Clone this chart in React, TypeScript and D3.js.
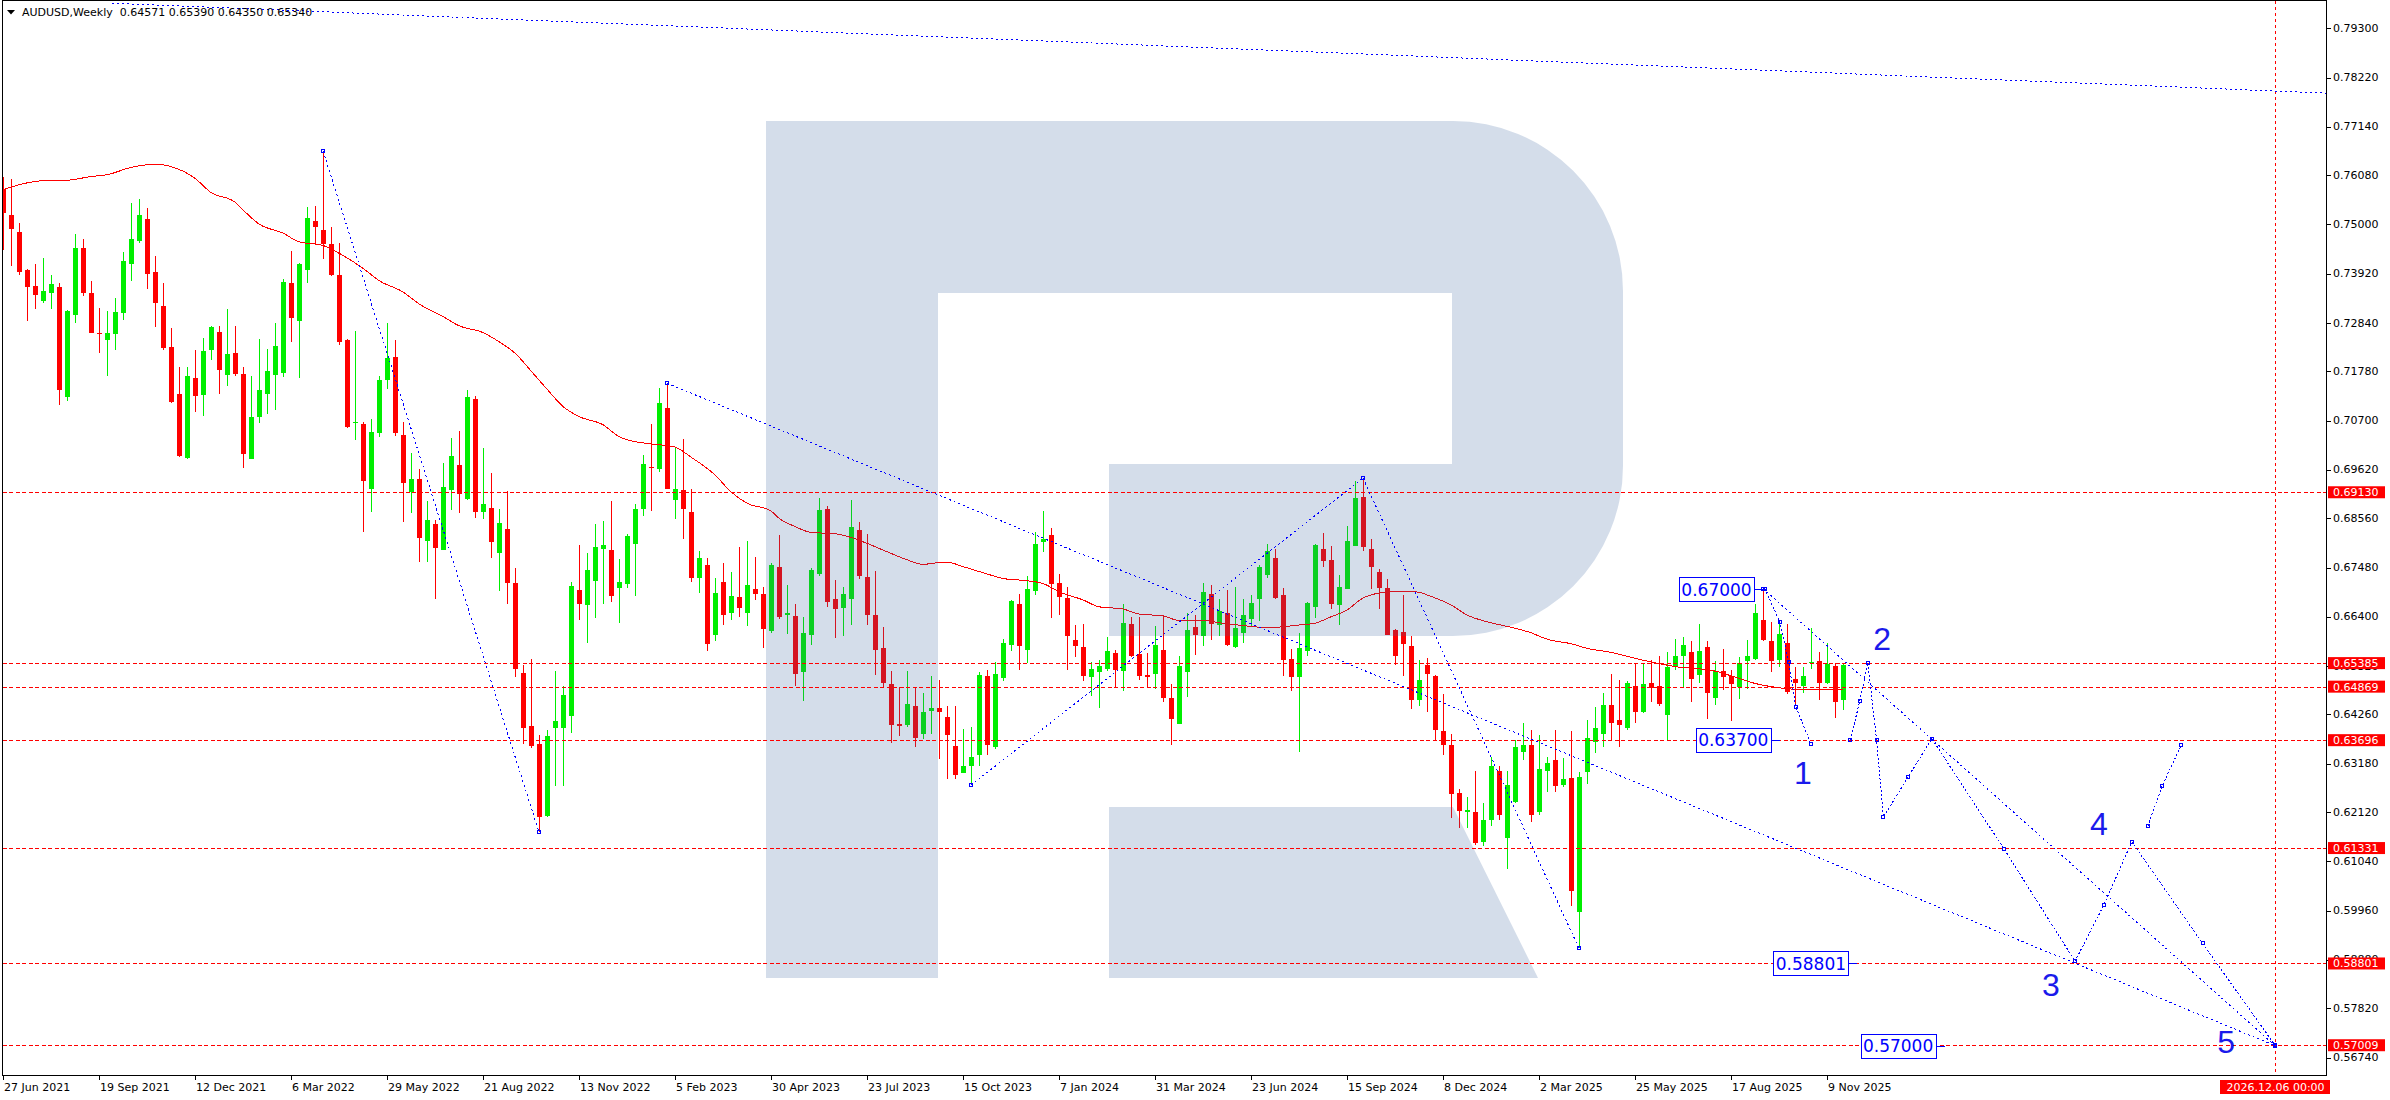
import React, { useEffect } from 'react';
import * as d3 from 'd3';

// ---------- data (weekly candles, index 0 = week of 27 Jun 2021) ----------
const OPEN = [
0.7578,0.7521,0.7484,0.7400,0.7366,0.7332,0.7349,0.7363,0.7121,0.7302,
0.7449,0.7350,0.7263,0.7247,0.7261,0.7305,0.7414,0.7464,0.7512,0.7396,
0.7321,0.7232,0.7129,0.6989,0.7164,0.7126,0.7225,0.7264,0.7169,0.7218,
0.7172,0.6987,0.7077,0.7129,0.7170,0.7175,0.7372,0.7289,0.7400,0.7508,
0.7487,0.7457,0.7389,0.7246,0.7066,0.7063,0.6920,0.7043,0.7158,0.7209,
0.7039,0.6913,0.6941,0.6806,0.6843,0.6787,0.6917,0.6972,0.6899,0.7117,
0.6870,0.6878,0.6780,0.6832,0.6714,0.6516,0.6400,0.6362,0.6204,0.6397,
0.6397,0.6423,0.6699,0.6665,0.6719,0.6789,0.6787,0.6704,0.6713,0.6800,
0.6877,0.6969,0.6963,0.7098,0.6897,0.6918,0.6870,0.6726,0.6754,0.6601,
0.6716,0.6649,0.6684,0.6649,0.6701,0.6690,0.6608,0.6749,0.6643,0.6642,
0.6518,0.6601,0.6733,0.6876,0.6679,0.6660,0.6680,0.6830,0.6727,0.6644,
0.6572,0.6493,0.6405,0.6403,0.6445,0.6383,0.6433,0.6440,0.6421,0.6357,
0.6298,0.6312,0.6336,0.6510,0.6355,0.6505,0.6579,0.6668,0.6568,0.6697,
0.6803,0.6819,0.6714,0.6681,0.6589,0.6574,0.6509,0.6518,0.6526,0.6561,
0.6522,0.6624,0.6559,0.6513,0.6515,0.6567,0.6462,0.6406,0.6518,0.6618,
0.6599,0.6690,0.6621,0.6648,0.6574,0.6605,0.6636,0.6679,0.6732,0.6769,
0.6688,0.6548,0.6507,0.6566,0.6662,0.6789,0.6765,0.6665,0.6702,0.6796,
0.6903,0.6789,0.6738,0.6703,0.6611,0.6607,0.6576,0.6458,0.6534,0.6510,
0.6390,0.6358,0.6253,0.6213,0.6213,0.6146,0.6194,0.6303,0.6156,0.6235,
0.6344,0.6358,0.6213,0.6302,0.6326,0.6272,0.6287,0.5993,0.6300,0.6366,
0.6383,0.6447,0.6414,0.6397,0.6488,0.6431,0.6494,0.6488,0.6425,0.6532,
0.6554,0.6562,0.6513,0.6574,0.6463,0.6521,0.6510,0.6487,0.6543,0.6548,
0.6633,0.6587,0.6545,0.6583,0.6504,0.6488,0.6539,0.6543,0.6494,0.6532,
0.64571];
const HIGH = [
0.7603,0.7600,0.7504,0.7402,0.7414,0.7427,0.7389,0.7372,0.7313,0.7479,
0.7468,0.7376,0.7317,0.7311,0.7339,0.7440,0.7547,0.7556,0.7536,0.7431,
0.7372,0.7273,0.7188,0.7188,0.7225,0.7251,0.7278,0.7278,0.7315,0.7278,
0.7188,0.7168,0.7249,0.7227,0.7284,0.7381,0.7442,0.7416,0.7538,0.7541,
0.7661,0.7495,0.7459,0.7248,0.7266,0.7067,0.7073,0.7168,0.7284,0.7247,
0.7068,0.6998,0.6963,0.6893,0.6853,0.6977,0.7033,0.7047,0.7138,0.7124,
0.7010,0.6955,0.6876,0.6915,0.6746,0.6535,0.6547,0.6380,0.6391,0.6521,
0.6488,0.6716,0.6798,0.6780,0.6844,0.6850,0.6894,0.6767,0.6822,0.6887,
0.6995,0.7063,0.7142,0.7152,0.7012,0.7030,0.6921,0.6784,0.6768,0.6725,
0.6759,0.6739,0.6793,0.6806,0.6771,0.6705,0.6759,0.6820,0.6710,0.6668,
0.6640,0.6747,0.6901,0.6883,0.6721,0.6705,0.6896,0.6848,0.6822,0.6741,
0.6618,0.6521,0.6487,0.6521,0.6487,0.6473,0.6510,0.6502,0.6445,0.6445,
0.6394,0.6399,0.6519,0.6524,0.6541,0.6591,0.6677,0.6690,0.6730,0.6825,
0.6872,0.6835,0.6733,0.6705,0.6621,0.6625,0.6542,0.6545,0.6596,0.6567,
0.6668,0.6640,0.6640,0.6560,0.6620,0.6643,0.6493,0.6554,0.6648,0.6644,
0.6714,0.6710,0.6679,0.6699,0.6705,0.6680,0.6688,0.6753,0.6800,0.6789,
0.6703,0.6570,0.6605,0.6673,0.6799,0.6824,0.6795,0.6732,0.6839,0.6938,
0.6944,0.6811,0.6745,0.6723,0.6613,0.6688,0.6598,0.6545,0.6550,0.6513,
0.6471,0.6383,0.6263,0.6244,0.6301,0.6232,0.6332,0.6313,0.6301,0.6370,
0.6407,0.6392,0.6380,0.6333,0.6392,0.6330,0.6390,0.6300,0.6414,0.6442,
0.6472,0.6515,0.6502,0.6500,0.6538,0.6538,0.6545,0.6553,0.6563,0.6591,
0.6596,0.6587,0.6624,0.6587,0.6543,0.6570,0.6524,0.6552,0.6589,0.6668,
0.6702,0.6629,0.6633,0.6624,0.6531,0.6531,0.6616,0.6563,0.6583,0.6539,
0.65390];
const LOW = [
0.7443,0.7409,0.7389,0.7289,0.7315,0.7327,0.7315,0.7104,0.7112,0.7283,
0.7344,0.7262,0.7219,0.7168,0.7225,0.7291,0.7377,0.7459,0.7359,0.7275,
0.7225,0.7108,0.6991,0.6987,0.7090,0.7081,0.7203,0.7129,0.7146,0.7168,
0.6967,0.6985,0.7064,0.7085,0.7093,0.7166,0.7243,0.7164,0.7372,0.7455,
0.7425,0.7388,0.7235,0.7053,0.7028,0.6826,0.6869,0.7035,0.7139,0.7037,
0.6848,0.6867,0.6761,0.6760,0.6679,0.6787,0.6875,0.6868,0.6895,0.6857,
0.6854,0.6769,0.6696,0.6668,0.6508,0.6361,0.6353,0.6168,0.6202,0.6270,
0.6270,0.6385,0.6634,0.6583,0.6638,0.6667,0.6673,0.6627,0.6703,0.6686,
0.6860,0.6871,0.6958,0.6920,0.6855,0.6811,0.6717,0.6693,0.6564,0.6588,
0.6623,0.6632,0.6640,0.6619,0.6677,0.6572,0.6605,0.6635,0.6603,0.6488,
0.6456,0.6579,0.6730,0.6662,0.6594,0.6599,0.6623,0.6722,0.6621,0.6513,
0.6486,0.6363,0.6379,0.6399,0.6355,0.6373,0.6383,0.6329,0.6284,0.6285,
0.6297,0.6271,0.6314,0.6338,0.6351,0.6500,0.6566,0.6524,0.6538,0.6688,
0.6781,0.6638,0.6645,0.6524,0.6551,0.6500,0.6467,0.6441,0.6522,0.6485,
0.6477,0.6551,0.6502,0.6485,0.6481,0.6454,0.6360,0.6406,0.6465,0.6557,
0.6577,0.6589,0.6597,0.6576,0.6572,0.6583,0.6619,0.6631,0.6724,0.6679,
0.6511,0.6478,0.6344,0.6555,0.6638,0.6750,0.6658,0.6621,0.6702,0.6796,
0.6785,0.6700,0.6658,0.6601,0.6535,0.6511,0.6439,0.6445,0.6432,0.6371,
0.6336,0.6198,0.6178,0.6178,0.6140,0.6137,0.6181,0.6194,0.6087,0.6232,
0.6326,0.6190,0.6206,0.6256,0.6256,0.6267,0.6005,0.5913,0.6274,0.6341,
0.6355,0.6370,0.6355,0.6391,0.6407,0.6429,0.6453,0.6445,0.6370,0.6524,
0.6486,0.6454,0.6495,0.6417,0.6447,0.6480,0.6412,0.6460,0.6481,0.6545,
0.6586,0.6519,0.6531,0.6471,0.6445,0.6472,0.6526,0.6458,0.6493,0.6419,
0.64350];
const CLOSE = [
0.7525,0.7490,0.7395,0.7362,0.7346,0.7354,0.7370,0.7138,0.7311,0.7449,
0.7350,0.7263,0.7259,0.7263,0.7308,0.7420,0.7468,0.7521,0.7392,0.7328,
0.7229,0.7111,0.6993,0.7168,0.7125,0.7223,0.7275,0.7180,0.7216,0.7172,
0.6996,0.7078,0.7137,0.7179,0.7234,0.7374,0.7294,0.7414,0.7514,0.7495,
0.7457,0.7390,0.7243,0.7057,0.7068,0.6938,0.7044,0.7159,0.7207,0.7042,
0.6934,0.6941,0.6813,0.6852,0.6791,0.6924,0.6992,0.6909,0.7121,0.6870,
0.6888,0.6804,0.6845,0.6715,0.6526,0.6396,0.6357,0.6201,0.6378,0.6412,
0.6469,0.6708,0.6669,0.6743,0.6793,0.6798,0.6686,0.6716,0.6817,0.6876,
0.6975,0.6967,0.7109,0.6921,0.6920,0.6877,0.6724,0.6769,0.6581,0.6692,
0.6643,0.6686,0.6660,0.6710,0.6691,0.6614,0.6754,0.6640,0.6648,0.6515,
0.6605,0.6743,0.6874,0.6673,0.6658,0.6690,0.6837,0.6730,0.6645,0.6568,
0.6494,0.6402,0.6401,0.6449,0.6375,0.6431,0.6440,0.6432,0.6382,0.6294,
0.6313,0.6333,0.6513,0.6358,0.6515,0.6583,0.6675,0.6577,0.6701,0.6800,
0.6811,0.6711,0.6684,0.6597,0.6577,0.6511,0.6526,0.6533,0.6565,0.6524,
0.6627,0.6555,0.6511,0.6507,0.6578,0.6461,0.6417,0.6532,0.6611,0.6600,
0.6694,0.6625,0.6653,0.6578,0.6616,0.6643,0.6670,0.6749,0.6784,0.6682,
0.6546,0.6509,0.6572,0.6670,0.6798,0.6763,0.6667,0.6705,0.6806,0.6901,
0.6794,0.6750,0.6704,0.6601,0.6555,0.6581,0.6458,0.6502,0.6515,0.6391,
0.6358,0.6251,0.6215,0.6217,0.6144,0.6194,0.6314,0.6206,0.6272,0.6355,
0.6358,0.6206,0.6307,0.6320,0.6269,0.6285,0.6039,0.6288,0.6374,0.6397,
0.6447,0.6408,0.6403,0.6494,0.6431,0.6493,0.6485,0.6448,0.6530,0.6553,
0.6578,0.6504,0.6565,0.6472,0.6521,0.6507,0.6492,0.6539,0.6554,0.6648,
0.6589,0.6543,0.6602,0.6476,0.6494,0.6510,0.6541,0.6494,0.6537,0.6454,
0.65340];

// moving average (bar index, value)
const MA_INDEX = [0,2,5,8,11,13,16,19,21,24,26,29,30,32,35,37,40,42,45,47,50,52,55,57,60,62,64,66,68,70,72,75,77,79,81,84,86,89,91,93,96,97,99,101,104,106,108,111,113,115,117,118,120,123,125,128,130,132,135,137,140,142,145,147,150,152,156,158,162,164,166,168,170,172,173,175,177,178,181,183,186,188,191,193,196,198,201,205,209,214,217,219,221,224,226,230];
const MA_VALUE = [0.7576,0.7587,0.7596,0.7597,0.7605,0.7609,0.7625,0.7632,0.7627,0.7601,0.7570,0.7549,0.7532,0.7501,0.7481,0.7462,0.7454,0.7437,0.7404,0.7377,0.7352,0.7326,0.7298,0.7278,0.7263,0.7243,0.7218,0.7179,0.7139,0.7101,0.7079,0.7061,0.7035,0.7024,0.7019,0.7012,0.6990,0.6951,0.6914,0.6889,0.6872,0.6856,0.6838,0.6825,0.6822,0.6814,0.6801,0.6779,0.6765,0.6755,0.6759,0.6760,0.6750,0.6734,0.6724,0.6719,0.6713,0.6695,0.6677,0.6662,0.6657,0.6646,0.6642,0.6632,0.6632,0.6627,0.6619,0.6616,0.6622,0.6626,0.6640,0.6655,0.6681,0.6692,0.6694,0.6696,0.6694,0.6688,0.6666,0.6644,0.6627,0.6619,0.6605,0.6591,0.6581,0.6571,0.6562,0.6545,0.6531,0.6521,0.6505,0.6494,0.6487,0.6481,0.6480,0.6481];

const PRICE_TICKS = [0.79300,0.78220,0.77140,0.76080,0.75000,0.73920,0.72840,0.71780,0.70700,0.69620,0.68560,0.67480,0.66400,0.65320,0.64260,0.63180,0.62120,0.61040,0.59960,0.58880,0.57820,0.56740];
const DATE_TICK_INDEX = [0,12,24,36,48,60,72,84,96,108,120,132,144,156,168,180,192,204,216,228];
const DATE_TICK_LABELS = ['27 Jun 2021','19 Sep 2021','12 Dec 2021','6 Mar 2022','29 May 2022','21 Aug 2022','13 Nov 2022','5 Feb 2023','30 Apr 2023','23 Jul 2023','15 Oct 2023','7 Jan 2024','31 Mar 2024','23 Jun 2024','15 Sep 2024','8 Dec 2024','2 Mar 2025','25 May 2025','17 Aug 2025','9 Nov 2025'];

const LEVELS = [0.69130,0.65385,0.64869,0.63696,0.61331,0.58801,0.57009];
const LEVEL_LABELS = ['0.69130','0.65385','0.64869','0.63696','0.61331','0.58801','0.57009'];

// straight trend lines: [index, price] pairs
const TREND_LINES: number[][][] = [
  [[13.6,0.7985],[290.4,0.7788]],
  [[40,0.7661],[67,0.6168]],
  [[83,0.7152],[284,0.5700]],
  [[121,0.6271],[170,0.6944]],
  [[170,0.6944],[197,0.5913]],
  [[220,0.6702],[284,0.5700]],
];
// forecast zig-zags
const FORECAST_PATHS: number[][][] = [
  [[220.2,0.6702],[222.1,0.6629],[223.2,0.6542],[224.1,0.6443],[226.0,0.6361]],
  [[230.9,0.6370],[232.1,0.6455],[233.1,0.6539]],
  [[233.1,0.6539],[234.2,0.6370],[235.05,0.6201],[238.1,0.6288],[241.1,0.6373],[250.1,0.6132],[259.0,0.5885]],
  [[259.0,0.5885],[262.6,0.6008],[266.1,0.6147]],
  [[266.1,0.6147],[274.95,0.5924],[284.0,0.5701]],
  [[268.1,0.6181],[269.9,0.6270],[272.3,0.6359]],
];
const PRICE_TAGS = [
  { index: 220, price: 0.67000, text: '0.67000' },
  { index: 222.1, price: 0.63700, text: '0.63700' },
  { index: 231.8, price: 0.58801, text: '0.58801' },
  { index: 242.7, price: 0.57000, text: '0.57000' },
];
const WAVE_LABELS = [
  { text: '1', index: 225.0, price: 0.6297 },
  { text: '2', index: 234.9, price: 0.6592 },
  { text: '3', index: 256.0, price: 0.5834 },
  { text: '4', index: 262.0, price: 0.6185 },
  { text: '5', index: 277.9, price: 0.5709 },
];
const TITLE = 'AUDUSD,Weekly  0.64571 0.65390 0.64350 0.65340';
const VLINE_INDEX = 284;
const VLINE_LABEL = '2026.12.06 00:00';

// ---------- layout ----------
const W = 2390, H = 1100;
const PL = 2.5, PR = 2326.5, PT = 0.5, PB = 1075.5;
const FONT = '"DejaVu Sans", Verdana, sans-serif';
const UP = '#00ee00', DOWN = '#ff0000', BLUE = '#0000ff';

export default function App() {
  useEffect(() => { document.body.style.margin = '0'; }, []);
  const x = d3.scaleLinear().domain([0, 290.875]).range([3, 2330]);
  const y = d3.scaleLinear().domain([0.5674, 0.793]).range([1057.5, 28.3]);
  const line = d3.line<number[]>().x(d => x(d[0])).y(d => y(d[1]));
  const maLine = d3.line<number>().x((_, k) => x(MA_INDEX[k])).y(d => y(d)).curve(d3.curveMonotoneX);

  const candles = OPEN.map((o, i) => ({ i, o, h: HIGH[i], l: LOW[i], c: CLOSE[i] }));

  const logo = 'M766,121 H1453 A170,170 0 0 1 1623,291 V466 A170,170 0 0 1 1453,636 H1109 V464 H1452 V293 H938 V978 H766 Z M1109,807 H1453 L1538,978 H1109 Z';

  const squares: number[][] = [];
  TREND_LINES.slice(1).forEach(l => l.forEach(p => squares.push(p)));
  FORECAST_PATHS.forEach(l => l.forEach(p => squares.push(p)));

  return (
    <svg width={W} height={H} viewBox={`0 0 ${W} ${H}`} style={{ display: 'block', background: '#fff' }}>
      <style>{'body{margin:0}'}</style>
      <defs>
        <clipPath id="plot"><rect x={PL} y={PT} width={PR - PL} height={PB - PT} /></clipPath>
      </defs>
      <rect x={0} y={0} width={W} height={H} fill="#fff" />
      <g clipPath="url(#plot)">
        {/* candles */}
        <g shapeRendering="crispEdges">
          {candles.map(d => {
            const cx = Math.round(x(d.i));
            const up = d.c >= d.o;
            const col = up ? UP : DOWN;
            const yt = y(Math.max(d.o, d.c));
            const yb = y(Math.min(d.o, d.c));
            return (
              <g key={d.i}>
                <line x1={cx + 0.5} x2={cx + 0.5} y1={y(d.h)} y2={y(d.l)} stroke={col} strokeWidth={1} />
                <rect x={cx - 2} y={yt} width={5} height={Math.max(1, yb - yt)} fill={col} />
              </g>
            );
          })}
        </g>
        {/* moving average */}
        <path d={maLine(MA_VALUE) || ''} fill="none" stroke="#ff0000" strokeWidth={1} shapeRendering="crispEdges" />
        {/* watermark logo */}
        <path d={logo} fill="rgb(50,96,154)" fillOpacity={0.21} fillRule="evenodd" />
        {/* horizontal levels */}
        {LEVELS.map(v => (
          <line key={v} x1={PL} x2={PR} y1={Math.round(y(v)) + 0.5} y2={Math.round(y(v)) + 0.5} stroke="#ff0000" strokeWidth={1} strokeDasharray="4 2.5" shapeRendering="crispEdges" />
        ))}
        {/* vertical time line */}
        <line x1={Math.round(x(VLINE_INDEX)) + 0.5} x2={Math.round(x(VLINE_INDEX)) + 0.5} y1={PT} y2={PB} stroke="#ff0000" strokeWidth={1} strokeDasharray="3 3" shapeRendering="crispEdges" />
        {/* trend lines and forecasts */}
        <g shapeRendering="crispEdges">
          {TREND_LINES.map((l, k) => (
            <path key={'t' + k} d={line(l) || ''} fill="none" stroke={BLUE} strokeWidth={1} strokeDasharray="2 3" />
          ))}
          {FORECAST_PATHS.map((l, k) => (
            <path key={'f' + k} d={line(l) || ''} fill="none" stroke={BLUE} strokeWidth={1} strokeDasharray="2 2" />
          ))}
          {squares.map((p, k) => (
            <rect key={'s' + k} x={Math.round(x(p[0])) - 1.5} y={Math.round(y(p[1])) - 1.5} width={3} height={3} fill="none" stroke={BLUE} strokeWidth={1} />
          ))}
        </g>
        {/* price tags */}
        {PRICE_TAGS.map(t => {
          const ax = x(t.index);
          const ay = y(t.price);
          const bw = 75, bh = 24;
          const bx = ax - 9 - bw;
          return (
            <g key={t.text}>
              <line x1={bx + bw} x2={ax} y1={Math.round(ay) + 0.5} y2={Math.round(ay) + 0.5} stroke={BLUE} strokeWidth={1} shapeRendering="crispEdges" />
              <rect x={Math.round(bx) + 0.5} y={Math.round(ay - bh / 2) + 0.5} width={bw} height={bh} fill="#fff" stroke={BLUE} strokeWidth={1} shapeRendering="crispEdges" />
              <text x={bx + bw / 2} y={ay + 0.5} textAnchor="middle" dominantBaseline="central" fontFamily={FONT} fontSize={17} fill={BLUE}>{t.text}</text>
            </g>
          );
        })}
        {/* wave labels */}
        {WAVE_LABELS.map(w => (
          <text key={w.text} x={x(w.index)} y={y(w.price)} textAnchor="middle" dominantBaseline="central" fontFamily='"Liberation Sans", Arial, sans-serif' fontSize={32} fill="#1a1aeb">{w.text}</text>
        ))}
      </g>
      {/* title */}
      <polygon points="7,10 15,10 11,14.5" fill="#000" />
      <text x={22} y={16} fontFamily={FONT} fontSize={11} fill="#000" style={{ whiteSpace: 'pre' }}>{TITLE}</text>
      {/* frame */}
      <rect x={PL} y={PT} width={PR - PL} height={PB - PT} fill="none" stroke="#000" strokeWidth={1} shapeRendering="crispEdges" />
      {/* price axis */}
      {PRICE_TICKS.map(v => (
        <g key={v}>
          <line x1={PR} x2={PR + 4} y1={Math.round(y(v)) + 0.5} y2={Math.round(y(v)) + 0.5} stroke="#000" shapeRendering="crispEdges" />
          <text x={2333} y={y(v)} dominantBaseline="central" fontFamily={FONT} fontSize={11} fill="#000">{v.toFixed(5)}</text>
        </g>
      ))}
      {LEVELS.map((v, k) => (
        <g key={'lv' + v}>
          <rect x={2328} y={y(v) - 6} width={57} height={12} fill="#ff0000" />
          <text x={2333} y={y(v) + 0.5} dominantBaseline="central" fontFamily={FONT} fontSize={11} fill="#fff">{LEVEL_LABELS[k]}</text>
        </g>
      ))}
      {/* time axis */}
      {DATE_TICK_INDEX.map((i, k) => {
        const tx = Math.round(x(i)) + 0.5;
        return (
          <g key={'d' + i}>
            <line x1={tx} x2={tx} y1={PB} y2={PB + 4} stroke="#000" shapeRendering="crispEdges" />
            <text x={tx + 0.5} y={1091} fontFamily={FONT} fontSize={11} fill="#000">{DATE_TICK_LABELS[k]}</text>
          </g>
        );
      })}
      <rect x={x(VLINE_INDEX) - 55} y={1080} width={110} height={14} fill="#ff0000" />
      <text x={x(VLINE_INDEX) + 0.5} y={1087.5} textAnchor="middle" dominantBaseline="central" fontFamily={FONT} fontSize={11} fill="#fff">{VLINE_LABEL}</text>
    </svg>
  );
}
